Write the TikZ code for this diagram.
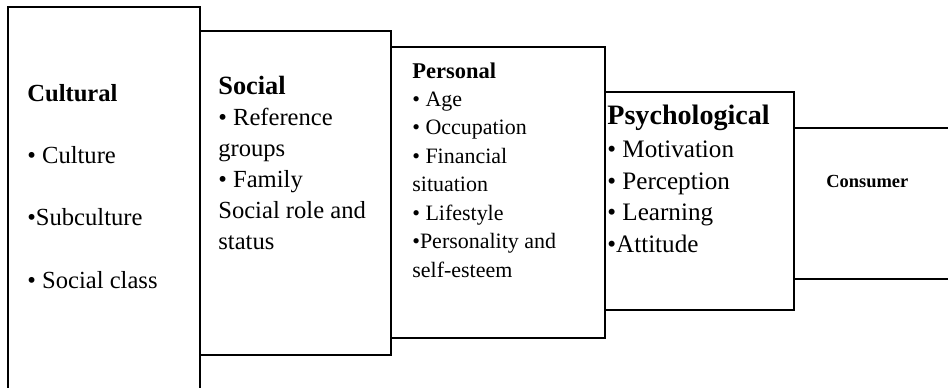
\documentclass[tikz,border=0pt]{standalone}
\usepackage{fontspec}
\setmainfont{Liberation Serif}

\begin{document}
\begin{tikzpicture}[x=0.02cm, y=-0.02cm,
  box/.style={draw, line width=0.9pt, fill=white},
  txt/.style={anchor=base west, inner sep=0pt}]
\useasboundingbox (0,0) rectangle (948,387);
\clip (0,0) rectangle (948,387);
% the five layers, each one stepping in from the last
\draw[box] (8,7) rectangle (200,400);
\draw[box] (200,31) rectangle (391,355);
\draw[box] (391,47) rectangle (605,338);
\draw[box] (605,92) rectangle (794,310);
\draw[box] (794,128) rectangle (960,279);
\node[txt, font=\fontsize{14}{35.5}\selectfont] (cultural) at (27,101)
  {\begin{tabular}[t]{@{}l@{}}\textbf{Cultural}\\• Culture\\•Subculture\\• Social class\end{tabular}};
\node[txt, font=\fontsize{14}{17.7}\selectfont] (social) at (218,94)
  {\begin{tabular}[t]{@{}l@{}}\fontsize{15}{17.7}\selectfont\bfseries Social\\• Reference\\groups\\• Family\\Social role and\\status\end{tabular}};
\node[txt, font=\fontsize{12.5}{16.2}\selectfont] (personal) at (412,78)
  {\begin{tabular}[t]{@{}l@{}}\fontsize{12.8}{16.2}\selectfont\bfseries Personal\\• Age\\• Occupation\\• Financial\\situation\\• Lifestyle\\•Personality and\\self-esteem\end{tabular}};
\node[txt, font=\fontsize{14.3}{17.9}\selectfont] (psycho) at (607,124)
  {\begin{tabular}[t]{@{}l@{}}\fontsize{16}{17.9}\selectfont\bfseries Psychological\\[1.4pt]• Motivation\\• Perception\\• Learning\\•Attitude\end{tabular}};
\node[txt, font=\fontsize{10.5}{12}\selectfont\bfseries] (consumer) at (826,187) {Consumer};
\end{tikzpicture}
\end{document}
